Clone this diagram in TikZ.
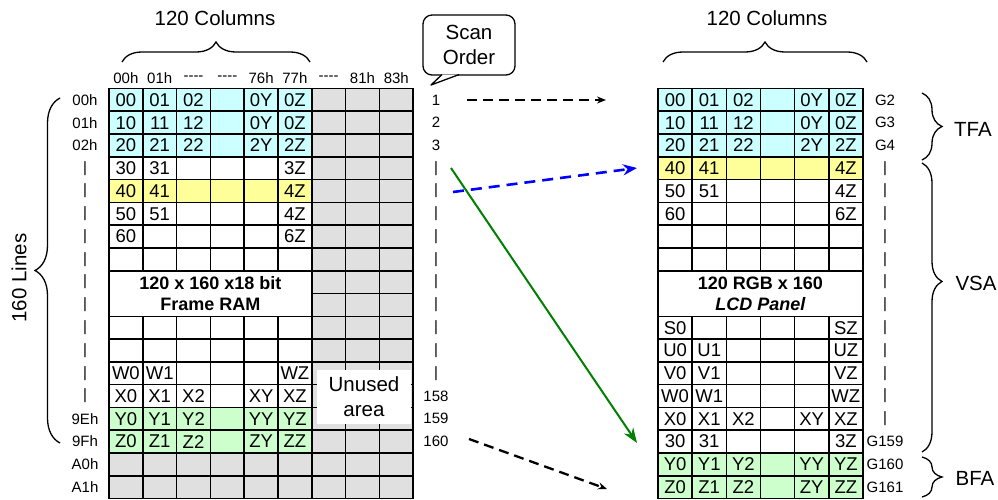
\documentclass[tikz,border=0pt]{standalone}
\usepackage{fontspec}
\setmainfont{Liberation Sans}
\usetikzlibrary{decorations.pathreplacing,arrows.meta}
\definecolor{cyanc}{HTML}{CCFFFF}
\definecolor{yelc}{HTML}{FFFF99}
\definecolor{grnc}{HTML}{CCFFCC}
\definecolor{gryc}{HTML}{E0E0E0}
\definecolor{arrgreen}{HTML}{008000}
\definecolor{arrblue}{HTML}{0000FF}
\tikzset{
  cellbox/.style={draw, line width=1.6pt, minimum width=33.8pt, minimum height=22.78pt,
    inner sep=0pt, outer sep=0pt, font=\fontsize{18.5}{19}\selectfont},
  rcellbox/.style={cellbox, minimum width=34.15pt},
  lab/.style={font=\fontsize{15}{16}\selectfont, inner sep=0pt},
  big/.style={font=\fontsize{20.5}{25}\selectfont, inner sep=0pt, align=center},
  merged/.style={font=\bfseries\fontsize{18}{21}\selectfont, align=center},
  brc/.style={decorate, decoration={brace, amplitude=#1}, line width=1.3pt},
  darr/.style={line width=2.3pt, dash pattern=on 10pt off 6pt, -{Stealth[length=9pt,width=7pt]}},
}
\newcommand\Lrow[3]{%
  \foreach \t [count=\c from 0] in {#3}{
    \node[cellbox, fill=#2] (L#1-\c) at ({109+33.8*(\c+0.5)},{88.5+22.78*(#1+0.5)}) {\t};
  }
  \foreach \c in {6,7,8}{
    \node[cellbox, fill=gryc] (L#1-\c) at ({109+33.8*(\c+0.5)},{88.5+22.78*(#1+0.5)}) {};
  }
}
\newcommand\Rrow[3]{%
  \foreach \t [count=\c from 0] in {#3}{
    \node[rcellbox, fill=#2] (R#1-\c) at ({658+34.15*(\c+0.5)},{88.5+22.78*(#1+0.5)}) {\t};
  }
}
\begin{document}
\begin{tikzpicture}[x=1pt,y=-1pt]
\useasboundingbox (0,0) rectangle (998,500);

% ---------- left grid (Frame RAM) ----------
\Lrow{0}{cyanc}{00,01,02,{},0Y,0Z}
\Lrow{1}{cyanc}{10,11,12,{},0Y,0Z}
\Lrow{2}{cyanc}{20,21,22,{},2Y,2Z}
\Lrow{3}{white}{30,31,{},{},{},3Z}
\Lrow{4}{yelc}{40,41,{},{},{},4Z}
\Lrow{5}{white}{50,51,{},{},{},4Z}
\Lrow{6}{white}{60,{},{},{},{},6Z}
\Lrow{7}{white}{{},{},{},{},{},{}}
\node[cellbox, merged, fill=white, minimum width=202.8pt, minimum height=45.56pt]
  (Lram) at ({109+33.8*3},{88.5+22.78*9}) {120 x 160 x18 bit\\Frame RAM};
\foreach \r in {8,9}{
  \foreach \c in {6,7,8}{
    \node[cellbox, fill=gryc] (L\r-\c) at ({109+33.8*(\c+0.5)},{88.5+22.78*(\r+0.5)}) {};
  }
}
\Lrow{10}{white}{{},{},{},{},{},{}}
\Lrow{11}{white}{{},{},{},{},{},{}}
\Lrow{12}{white}{W0,W1,{},{},{},WZ}
\Lrow{13}{white}{X0,X1,X2,{},XY,XZ}
\Lrow{14}{grnc}{Y0,Y1,Y2,{},YY,YZ}
\Lrow{15}{grnc}{Z0,Z1,Z2,{},ZY,ZZ}
\Lrow{16}{gryc}{{},{},{},{},{},{}}
\Lrow{17}{gryc}{{},{},{},{},{},{}}
\node[big, fill=white, minimum width=94pt, minimum height=54pt] (unused) at (364,397) {Unused\\area};

% column headers
\foreach \t [count=\c from 0] in {00h,01h,-{}-{}-{}-,-{}-{}-{}-,76h,77h,-{}-{}-{}-,81h,83h}{
  \node[lab] (Lcol\c) at ({109+33.8*(\c+0.5)},78) {\t};
}
% row labels
\foreach \r/\t in {0/00h,1/01h,2/02h,3/|,4/|,5/|,6/|,7/|,8/|,9/|,10/|,11/|,12/|,13/|,14/9Eh,15/9Fh,16/A0h,17/A1h}{
  \node[lab] (Lrow\r) at (85,{88.5+22.78*(\r+0.5)}) {\t};
}
% scan numbers
\foreach \r/\t in {0/1,1/2,2/3,3/|,4/|,5/|,6/|,7/|,8/|,9/|,10/|,11/|,12/|,13/158,14/159,15/160}{
  \node[lab] (Scan\r) at (436,{88.5+22.78*(\r+0.5)}) {\t};
}

% titles and braces (left)
\node[big] (ltitle) at (215,18) {120 Columns};
\coordinate (lb1) at (122,62);
\coordinate (lb2) at (310,62);
\draw[brc=20pt] (lb1) -- (lb2);
\coordinate (vb1) at (60,443);
\coordinate (vb2) at (60,98);
\draw[brc=25pt] (vb1) -- (vb2);
\node[big, rotate=90] (lines) at (19,278) {160 Lines};

% scan order callout
\node[big, draw, line width=1.3pt, rounded corners=9pt, minimum width=92pt, minimum height=60pt] (scan) at (469,45) {Scan\\Order};
\coordinate (tl) at (442,74.6);
\coordinate (tr) at (459,74.6);
\coordinate (tip) at (431,85);
\fill[white] (tl) -- (tip) -- (tr) -- cycle;
\draw[line width=1.3pt, line join=round] (tl) -- (tip) -- (tr);

% ---------- right grid (LCD panel) ----------
\Rrow{0}{cyanc}{00,01,02,{},0Y,0Z}
\Rrow{1}{cyanc}{10,11,12,{},0Y,0Z}
\Rrow{2}{cyanc}{20,21,22,{},2Y,2Z}
\Rrow{3}{yelc}{40,41,{},{},{},4Z}
\Rrow{4}{white}{50,51,{},{},{},4Z}
\Rrow{5}{white}{60,{},{},{},{},6Z}
\Rrow{6}{white}{{},{},{},{},{},{}}
\Rrow{7}{white}{{},{},{},{},{},{}}
\node[rcellbox, merged, fill=white, minimum width=204.9pt, minimum height=45.56pt]
  (Rlcd) at ({658+34.15*3},{88.5+22.78*9}) {120 RGB x 160\\\textit{LCD Panel}};
\Rrow{10}{white}{S0,{},{},{},{},SZ}
\Rrow{11}{white}{U0,U1,{},{},{},UZ}
\Rrow{12}{white}{V0,V1,{},{},{},VZ}
\Rrow{13}{white}{W0,W1,{},{},{},WZ}
\Rrow{14}{white}{X0,X1,X2,{},XY,XZ}
\Rrow{15}{white}{30,31,{},{},{},3Z}
\Rrow{16}{grnc}{Y0,Y1,Y2,{},YY,YZ}
\Rrow{17}{grnc}{Z0,Z1,Z2,{},ZY,ZZ}

\foreach \r/\t in {0/G2,1/G3,2/G4,3/|,4/|,5/|,6/|,7/|,8/|,9/|,10/|,11/|,12/|,13/|,14/|,15/G159,16/G160,17/G161}{
  \node[lab] (Rrow\r) at (885,{88.5+22.78*(\r+0.5)}) {\t};
}
\node[big] (rtitle) at (767,18) {120 Columns};
\coordinate (rb1) at (663,62);
\coordinate (rb2) at (867,62);
\draw[brc=20pt] (rb1) -- (rb2);

\coordinate (tfa1) at (922,93);
\coordinate (tfa2) at (922,160);
\draw[brc=20pt] (tfa1) -- (tfa2);
\node[big] (tfa) at (973,129) {TFA};
\coordinate (vsa1) at (922,163);
\coordinate (vsa2) at (922,452);
\draw[decorate, decoration={brace, amplitude=20pt, aspect=0.41}, line width=1.3pt] (vsa1) -- (vsa2);
\node[big] (vsa) at (976,283) {VSA};
\coordinate (bfa1) at (922,457);
\coordinate (bfa2) at (922,497);
\draw[brc=20pt] (bfa1) -- (bfa2);
\node[big] (bfa) at (975,478) {BFA};

% ---------- arrows ----------
\coordinate (a1s) at (467,100);
\coordinate (a1e) at (606,100);
\draw[darr] (a1s) -- (a1e);
\coordinate (a2s) at (453,192);
\coordinate (a2e) at (637,168);
\draw[arrblue, line width=2.6pt, dash pattern=on 11pt off 7pt, -{Stealth[length=14pt,width=11pt]}] (a2s) -- (a2e);
\coordinate (a3s) at (451,168);
\coordinate (a3e) at (637,443);
\draw[arrgreen, line width=2pt, -{Stealth[length=15pt,width=11pt]}] (a3s) -- (a3e);
\coordinate (a4s) at (469,439);
\coordinate (a4e) at (607,489);
\draw[darr] (a4s) -- (a4e);
\end{tikzpicture}
\end{document}
